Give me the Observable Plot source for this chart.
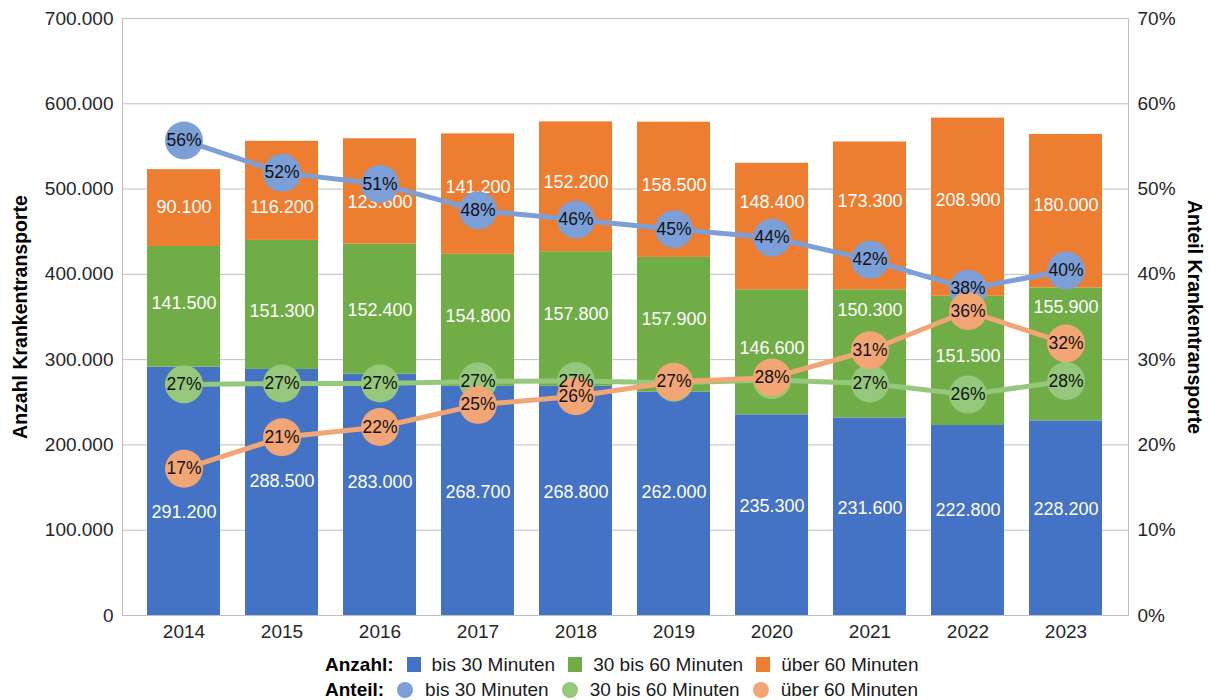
<!DOCTYPE html>
<html>
<head>
<meta charset="utf-8">
<script src="https://cdn.jsdelivr.net/npm/d3@7"></script>
<script src="https://cdn.jsdelivr.net/npm/@observablehq/plot@0.6"></script>
<style>
  html, body { margin: 0; padding: 0; background: #fff; }
  #wrap { position: relative; width: 1210px; height: 700px; font-family: "Liberation Sans", Arial, sans-serif; }
  #legend { position: absolute; left: 325px; top: 652px; font-size: 19px; color: #1a1a1a; line-height: 25px; }
  .row { display: flex; align-items: center; white-space: nowrap; }
  .lab { font-weight: bold; color: #000; }
  .sq { display: inline-block; width: 14px; height: 15px; margin: 0 11px 0 13px; }
  .ci { display: inline-block; width: 16px; height: 16px; border-radius: 50%; margin: 0 12px 0 13px; }
</style>
</head>
<body>
<div id="wrap">
  <div id="chart"></div>
  <div id="legend"></div>
</div>
<script>
// ---- data ----
const years = ["2014", "2015", "2016", "2017", "2018", "2019", "2020", "2021", "2022", "2023"];
const categories = ["bis 30 Minuten", "30 bis 60 Minuten", "über 60 Minuten"];
const anzahlBis30 = [291200, 288500, 283000, 268700, 268800, 262000, 235300, 231600, 222800, 228200];
const anzahlBis60 = [141500, 151300, 152400, 154800, 157800, 157900, 146600, 150300, 151500, 155900];
const anzahlUeber60 = [90100, 116200, 123600, 141200, 152200, 158500, 148400, 173300, 208900, 180000];
const anteilBis30 = [55.7, 51.9, 50.6, 47.5, 46.4, 45.3, 44.3, 41.7, 38.3, 40.45];
const anteilBis60 = [27.1, 27.2, 27.2, 27.45, 27.49, 27.3, 27.6, 27.2, 25.9, 27.5];
const anteilUeber60 = [17.2, 20.9, 22.1, 24.7, 25.7, 27.4, 27.9, 31.1, 35.7, 31.9];
const yTicks = [0, 100000, 200000, 300000, 400000, 500000, 600000, 700000];
const pctTicks = [0, 10, 20, 30, 40, 50, 60, 70];

// ---- layout / style (kept apart from the data) ----
const barColors = ["#4472C4", "#70AD47", "#ED7D31"];
const lineColors = ["#7C9FD8", "#95C87A", "#F3A675"];
// manual nudges (px, + = down) of the bar value labels, as in the reference
const labelShiftPx = [
  [21, -11, -13, -9, -9, -12, -9, -9, -10, -9],
  [-4, 6, 1, -4, -5, -5, -4, -44, -5, -47],
  [-1, 16, 11, -7, -5, -5, -24, -15, -7, -6]
];
const W = 1210, H = 650, MT = 18, MB = 35, ML = 122, MR = 82;
const yMax = 700000;
const unitsPerPx = yMax / (H - MT - MB);

// ---- build tables ----
const anzahl = [anzahlBis30, anzahlBis60, anzahlUeber60];
const anteil = [anteilBis30, anteilBis60, anteilUeber60];
const counts = [];
const labels = [];
years.forEach((y, i) => {
  let base = 0;
  categories.forEach((c, k) => {
    const v = anzahl[k][i];
    counts.push({year: y, cat: c, value: v});
    labels.push({year: y, cat: c, value: v, mid: base + v / 2, shift: labelShiftPx[k][i]});
    base += v;
  });
});
const shareSeries = anteil.map((arr, k) => years.map((y, i) => ({year: y, i, k, cat: categories[k], pct: arr[i]})));

const de = d3.formatLocale({decimal: ",", thousands: ".", grouping: [3], currency: ["", " €"]});
const fmt = de.format(",");
const PCT = 10000; // 1 % on the right axis equals 10.000 on the left axis (70 % <-> 700.000)
const pctText = d => Math.round(d.pct) + "%";

const lineMarks = [];
shareSeries.forEach((s, k) => {
  lineMarks.push(Plot.line(s, {x: "year", y: d => d.pct * PCT, stroke: lineColors[k], strokeWidth: 5}));
  lineMarks.push(Plot.dot(s, {x: "year", y: d => d.pct * PCT, r: 19, fill: lineColors[k], stroke: "none"}));
});
// labels sit on top of all circles; a label that is fully hidden under an identical later label is not drawn twice
const hiddenUnder = d => shareSeries.some((s2, j) => j > d.k && pctText(s2[d.i]) === pctText(d) && Math.abs(s2[d.i].pct - d.pct) < 0.6);
const pctLabelMarks = shareSeries.map(s =>
  Plot.text(s, {x: "year", y: d => d.pct * PCT, text: pctText, filter: d => !hiddenUnder(d), fill: "#111", fontSize: 17.5}));

const chart = Plot.plot({
  width: W,
  height: H,
  marginTop: MT,
  marginBottom: MB,
  marginLeft: ML,
  marginRight: MR,
  style: {fontFamily: "'Liberation Sans', Arial, sans-serif", fontSize: "19px", color: "#262626", background: "#fff"},
  x: {domain: years, paddingInner: 0.253, paddingOuter: 0.223, label: null},
  y: {domain: [0, yMax], label: null},
  color: {domain: categories, range: barColors},
  marks: [
    Plot.gridY({ticks: yTicks, stroke: "#bfbfbf", strokeOpacity: 1}),
    Plot.frame({stroke: "#bfbfbf"}),
    Plot.barY(counts, {x: "year", y: "value", fill: "cat"}),
    Plot.text(labels, {x: "year", y: d => d.mid - d.shift * unitsPerPx, text: d => fmt(d.value), fill: "#fff", fontSize: 18}),
    ...lineMarks,
    ...pctLabelMarks,
    Plot.axisX({tickSize: 0, tickPadding: 9, fontSize: 19, label: null}),
    Plot.axisY({anchor: "left", ticks: yTicks, tickSize: 0, tickPadding: 9, tickFormat: fmt, fontSize: 19, label: null}),
    Plot.axisY({anchor: "right", ticks: pctTicks.map(p => p * PCT), tickSize: 0, tickPadding: 9, tickFormat: d => Math.round(d / PCT) + "%", fontSize: 19, label: null}),
    Plot.text(["Anzahl Krankentransporte"], {frameAnchor: "left", dx: -102, rotate: -90, textAnchor: "middle", text: d => d, fontWeight: "bold", fontSize: 19.5, fill: "#000"}),
    Plot.text(["Anteil Krankentransporte"], {frameAnchor: "right", dx: 66, rotate: 90, textAnchor: "middle", text: d => d, fontWeight: "bold", fontSize: 19.5, fill: "#000"})
  ]
});
document.getElementById("chart").appendChild(chart);

// ---- legend ----
const legend = document.getElementById("legend");
const rows = [
  {label: "Anzahl:", cls: "sq", colors: barColors},
  {label: "Anteil:", cls: "ci", colors: lineColors}
];
rows.forEach(r => {
  const row = document.createElement("div");
  row.className = "row";
  const lab = document.createElement("span");
  lab.className = "lab";
  lab.textContent = r.label;
  row.appendChild(lab);
  categories.forEach((c, k) => {
    const sw = document.createElement("span");
    sw.className = r.cls;
    sw.style.background = r.colors[k];
    row.appendChild(sw);
    const t = document.createElement("span");
    t.textContent = c;
    row.appendChild(t);
  });
  legend.appendChild(row);
});
</script>
</body>
</html>
